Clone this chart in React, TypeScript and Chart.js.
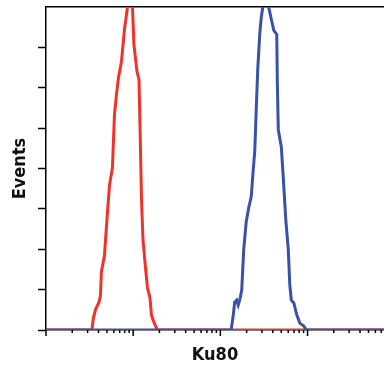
import React, { useEffect, useRef } from "react";
import { Chart, registerables } from "chart.js";

Chart.register(...registerables);

// Isotype control (red) histogram: fluorescence intensity vs events
const redIntensity = [1, 3.36, 3.5, 3.69, 4.05, 4.21, 4.32, 4.68, 5.0, 5.34, 5.78, 6.1, 6.43, 6.78, 7.34, 7.94, 8.6, 9.19, 9.82, 10.2, 11.06, 11.66, 11.97, 12.46, 12.96, 13.85, 14.6, 15.6, 16.2, 17.6, 19.0, 7534];
const redEvents = [0, 0, 0.3, 0.5, 0.69, 0.84, 1.44, 1.84, 2.73, 3.57, 4.02, 5.33, 5.83, 6.25, 6.65, 7.44, 7.99, 8.24, 7.99, 7.07, 6.4, 6.2, 5.09, 3.23, 2.23, 1.54, 1.04, 0.79, 0.37, 0.15, 0, 0];

// Ku80 stained (blue) histogram
const blueIntensity = [1, 133.1, 140.3, 146.0, 153.9, 160.2, 168.9, 175.8, 185.3, 198.0, 211.5, 225.9, 238.3, 247.9, 257.9, 268.3, 282.9, 294.4, 306.4, 331.7, 359.2, 388.9, 410.0, 443.8, 449.7, 461.8, 500.0, 527.2, 563.0, 601.6, 626.0, 651.3, 695.8, 753.4, 815.6, 907.0, 968.7, 7534];
const blueEvents = [0, 0, 0.35, 0.69, 0.74, 0.62, 0.79, 0.99, 1.99, 2.68, 3.03, 3.3, 3.97, 4.42, 5.46, 6.45, 7.32, 7.74, 7.99, 8.19, 7.99, 7.64, 7.42, 7.32, 6.2, 4.96, 4.54, 3.77, 2.73, 1.99, 1.12, 0.74, 0.67, 0.37, 0.17, 0.1, 0, 0];

const xMin = 1;
const xMax = 7534;
const yMin = 0;
const yMax = 8;
const yTickValues = [0, 1, 2, 3, 4, 5, 6, 7];
const xTickValues = [
  1, 2, 3, 4, 5, 6, 7, 8, 9,
  10, 20, 30, 40, 50, 60, 70, 80, 90,
  100, 200, 300, 400, 500, 600, 700, 800, 900,
  1000, 2000, 3000, 4000, 5000, 6000, 7000,
];
const xTitle = "Ku80";
const yTitle = "Events";

const titleFont = {
  family: "'Liberation Sans Narrow', 'Arial Narrow', 'DejaVu Sans Condensed', sans-serif",
  size: 18,
  weight: "bold" as const,
  lineHeight: 1,
};

const logTickPlugin = {
  id: "logTicks",
  afterDraw(chart: any) {
    const s = chart.scales.x;
    const ctx = chart.ctx;
    const y0 = chart.chartArea.bottom;
    ctx.save();
    ctx.strokeStyle = "#000";
    ctx.lineWidth = 1.5;
    for (const v of xTickValues) {
      const px = s.getPixelForValue(v);
      const lg = Math.log10(v);
      const major = Math.abs(lg - Math.round(lg)) < 1e-9;
      ctx.beginPath();
      ctx.moveTo(px, y0);
      ctx.lineTo(px, y0 + (major ? 6 : 3));
      ctx.stroke();
    }
    ctx.restore();
  },
};

export default function App() {
  const ref = useRef<HTMLCanvasElement | null>(null);

  useEffect(() => {
    if (!ref.current) return;
    const chart = new Chart(ref.current, {
      type: "line",
      data: {
        datasets: [
          {
            label: "Ku80",
            data: blueIntensity.map((x, i) => ({ x, y: blueEvents[i] })),
            borderColor: "#3a52a6",
            borderWidth: 3,
            pointRadius: 0,
            tension: 0,
            fill: false,
            order: 1,
          },
          {
            label: "Control",
            data: redIntensity.map((x, i) => ({ x, y: redEvents[i] })),
            borderColor: "#ef3328",
            borderWidth: 3,
            pointRadius: 0,
            tension: 0,
            fill: false,
            order: 2,
          },
        ],
      },
      options: {
        responsive: false,
        animation: false,
        layout: { padding: { top: 7, left: 0, right: 0, bottom: 0 } },
        plugins: { legend: { display: false }, tooltip: { enabled: false } },
        scales: {
          x: {
            type: "logarithmic",
            position: "bottom",
            min: xMin,
            max: xMax,
            afterFit: (s: any) => {
              s.height = 41;
            },
            ticks: { display: false },
            grid: { display: false },
            border: { display: true, color: "#000", width: 1.5 },
            title: {
              display: true,
              text: xTitle,
              color: "#111",
              font: titleFont,
              padding: { top: 0, bottom: 7 },
            },
          },
          xTop: {
            axis: "x",
            type: "linear",
            position: "top",
            min: 0,
            max: 1,
            afterFit: (s: any) => {
              s.height = 0;
            },
            ticks: { display: false },
            grid: { display: false },
            border: { display: true, color: "#000", width: 1.5 },
          },
          y: {
            type: "linear",
            min: yMin,
            max: yMax,
            afterBuildTicks: (s: any) => {
              s.ticks = yTickValues.map((v) => ({ value: v }));
            },
            afterFit: (s: any) => {
              s.width = 46;
            },
            ticks: { display: false },
            grid: {
              display: true,
              drawOnChartArea: false,
              drawTicks: true,
              tickLength: 8,
              tickColor: "#000",
              tickWidth: 1.5,
            },
            border: { display: true, color: "#000", width: 1.5 },
            title: {
              display: true,
              text: yTitle,
              color: "#111",
              font: titleFont,
              padding: { top: 11.5, bottom: 0 },
            },
          },
        },
      } as any,
      plugins: [logTickPlugin],
    });
    return () => chart.destroy();
  }, []);

  return (
    <div style={{ position: "fixed", left: 0, top: 0, width: 384, height: 371, background: "#fff" }}>
      <canvas ref={ref} width={384} height={371} style={{ width: 384, height: 371, display: "block" }} />
    </div>
  );
}
